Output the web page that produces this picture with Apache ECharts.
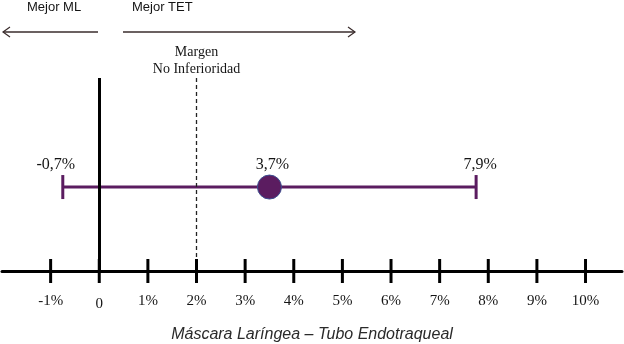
<!DOCTYPE html>
<html>
<head>
<meta charset="utf-8">
<script src="https://cdn.jsdelivr.net/npm/echarts@6/dist/echarts.min.js"></script>
<style>
  html, body { margin: 0; padding: 0; background: #fff; }
  #chart { width: 624px; height: 344px; }
</style>
</head>
<body>
<div id="chart"></div>
<script>
// tick marks on the axis and their labels
let tickValues = [-1, 0, 1, 2, 3, 4, 5, 6, 7, 8, 9, 10];
let tickLabels = ["-1%", "0", "1%", "2%", "3%", "4%", "5%", "6%", "7%", "8%", "9%", "10%"];

// interval: lower, estimate, upper (as drawn) and their printed labels
let ciValues = [-0.75, 3.5, 7.75];
let ciLabels = ["-0,7%", "3,7%", "7,9%"];
let ciRow = 0.435;

let noInferiorityMargin = 2;

let serif = "Liberation Serif";
let sans = "Liberation Sans";
let purple = "#5b1c60";
let ink = "#151515";

let chart = echarts.init(document.getElementById("chart"));

chart.setOption({
  animation: false,
  grid: { left: 2, right: 2, top: 78, bottom: 73, outerBoundsMode: "none" },
  xAxis: {
    type: "value",
    min: -2,
    max: 10.75,
    interval: 1,
    splitLine: { show: false },
    axisTick: { show: false },
    axisLine: { lineStyle: { color: "#000", width: 3 } },
    axisLabel: {
      margin: 23,
      fontFamily: serif,
      fontSize: 15,
      color: ink,
      formatter: function (v) {
        let i = tickValues.indexOf(v);
        if (i < 0) return "";
        return v === 0 ? "{zero|" + tickLabels[i] + "}" : tickLabels[i];
      },
      rich: {
        zero: { fontFamily: serif, fontSize: 15, color: ink, padding: [3, 0, 0, 0] },
      },
    },
    name: "Máscara Laríngea – Tubo Endotraqueal",
    nameLocation: "middle",
    nameGap: 56,
    nameTextStyle: {
      fontFamily: sans,
      fontStyle: "italic",
      fontSize: 16,
      color: "#2a2a2a",
    },
  },
  yAxis: {
    type: "value",
    min: 0,
    max: 1,
    show: false,
  },
  series: [
    {
      // axis ticks crossing the axis line
      type: "scatter",
      silent: true,
      clip: false,
      symbol: "rect",
      symbolSize: [3, 24],
      itemStyle: { color: "#000", opacity: 1 },
      data: tickValues.map((v) => [v, 0]),
      z: 5,
    },
    {
      // zero line and non-inferiority margin
      type: "line",
      data: [],
      markLine: {
        silent: true,
        symbol: "none",
        data: [
          {
            xAxis: 0,
            lineStyle: { color: "#000", width: 3, type: "solid" },
            label: { show: false },
          },
          {
            xAxis: noInferiorityMargin,
            lineStyle: { color: "#222", width: 1.3, type: [4, 3] },
            label: {
              show: true,
              position: "end",
              distance: 0,
              formatter: "Margen\nNo Inferioridad",
              fontFamily: serif,
              fontSize: 14,
              lineHeight: 17,
              color: ink,
            },
          },
        ],
      },
    },
    {
      // confidence interval line
      type: "line",
      silent: true,
      symbol: "none",
      lineStyle: { color: purple, width: 3 },
      data: [
        [ciValues[0], ciRow],
        [ciValues[2], ciRow],
      ],
      z: 3,
    },
    {
      // caps
      type: "scatter",
      silent: true,
      symbol: "rect",
      symbolSize: [3, 24],
      itemStyle: { color: purple, opacity: 1 },
      label: {
        show: true,
        position: "top",
        distance: 2,
        fontFamily: serif,
        fontSize: 16,
        color: ink,
      },
      data: [
        { value: [ciValues[0], ciRow], label: { formatter: ciLabels[0], offset: [-7, 0] } },
        { value: [ciValues[2], ciRow], label: { formatter: ciLabels[2], offset: [4, 0] } },
      ],
      z: 4,
    },
    {
      // point estimate
      type: "scatter",
      silent: true,
      symbol: "circle",
      symbolSize: 24,
      itemStyle: { color: purple, borderColor: "#3b4d8f", borderWidth: 1, opacity: 1 },
      label: {
        show: true,
        position: "top",
        distance: 2,
        offset: [3, 0],
        fontFamily: serif,
        fontSize: 16,
        color: ink,
        formatter: ciLabels[1],
      },
      data: [[ciValues[1], ciRow]],
      z: 6,
    },
  ],
  graphic: [
    {
      type: "text",
      left: 27,
      top: 1,
      style: { text: "Mejor ML", font: "13px " + sans, fill: ink },
    },
    {
      type: "text",
      left: 132,
      top: 1,
      style: { text: "Mejor TET", font: "13px " + sans, fill: ink },
    },
    {
      type: "polyline",
      shape: { points: [[3, 32], [98, 32]] },
      style: { stroke: "#3a2c2c", lineWidth: 1.5 },
    },
    {
      type: "polyline",
      shape: { points: [[10, 27], [3, 32], [10, 37]] },
      style: { stroke: "#3a2c2c", lineWidth: 1.2, fill: null },
    },
    {
      type: "polyline",
      shape: { points: [[123, 32], [355, 32]] },
      style: { stroke: "#3a2c2c", lineWidth: 1.5 },
    },
    {
      type: "polyline",
      shape: { points: [[348, 27], [355, 32], [348, 37]] },
      style: { stroke: "#3a2c2c", lineWidth: 1.2, fill: null },
    },
  ],
});
</script>
</body>
</html>
